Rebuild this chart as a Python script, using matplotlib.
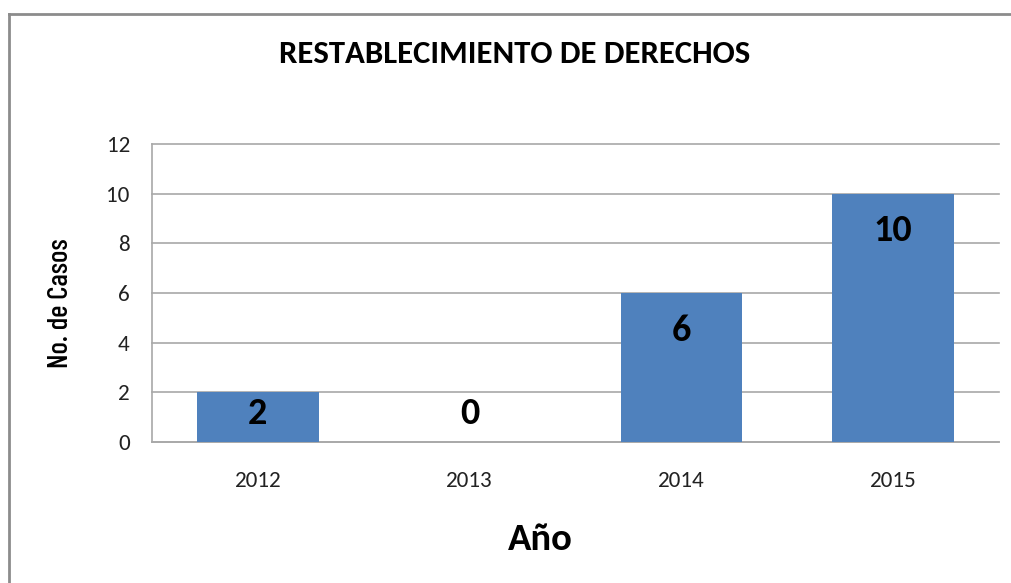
import matplotlib
matplotlib.use('Agg')
from matplotlib import pyplot as plt
from matplotlib.lines import Line2D

years = ['2012', '2013', '2014', '2015']
cases = [2, 0, 6, 10]
y_ticks = [0, 2, 4, 6, 8, 10, 12]

title = 'RESTABLECIMIENTO DE DERECHOS'
xlabel = 'Año'
ylabel = 'No. de Casos'

bar_color = '#4F81BD'
grid_color = '#A8A8A8'
W, H = 1011, 583

plt.rcParams['font.family'] = ['Carlito', 'Open Sans', 'DejaVu Sans']

fig = plt.figure(figsize=(W / 100, H / 100), dpi=100)
fig.patch.set_facecolor('white')

# chart frame (left and top edges only show)
frame_kw = dict(color='#8C8C8C', lw=2, transform=fig.transFigure)
fig.add_artist(Line2D([9 / W, 9 / W], [0, 1 - 14 / H], **frame_kw))
fig.add_artist(Line2D([9 / W, 1], [1 - 14 / H, 1 - 14 / H], **frame_kw))

ax = fig.add_axes([152 / W, (H - 442) / H, (999 - 152) / W, (442 - 144) / H])
x = list(range(len(years)))
ax.bar(x, cases, width=0.573, color=bar_color, zorder=3)

ax.set_xlim(-0.5, len(years) - 0.5)
ax.set_ylim(0, 12)
ax.set_yticks(y_ticks)
ax.set_xticks(x)
ax.set_xticklabels(years)
ax.tick_params(axis='both', length=0, labelsize=16.7, colors='#222222')
ax.tick_params(axis='x', pad=21)
ax.tick_params(axis='y', pad=16)

ax.yaxis.grid(True, color=grid_color, lw=1.2, zorder=0)
for gl in ax.get_ygridlines():
    gl.set_clip_on(False)
for side in ('top', 'right'):
    ax.spines[side].set_visible(False)
for side in ('left', 'bottom'):
    ax.spines[side].set_color(grid_color)
    ax.spines[side].set_linewidth(1.2)

# value labels just inside the bar top, kept above the baseline
for xi, v in zip(x, cases):
    ax.text(xi, max(v - 1.5, 1.15), str(v), ha='center', va='center',
            fontsize=27.5, fontweight='bold', color='black', zorder=4)

fig.text(515 / W, 1 - 54 / H, title, ha='center', va='center',
         fontsize=23.6, fontweight='bold')
fig.text(540 / W, 1 - 540 / H, xlabel, ha='center', va='center',
         fontsize=27.8, fontweight='bold')
fig.text(61 / W, 1 - 303 / H, ylabel, ha='center', va='center', rotation=90,
         fontsize=21, fontweight='medium',
         family=['Barlow Condensed', 'DejaVu Sans'])

fig.savefig('out.png', dpi=100)
